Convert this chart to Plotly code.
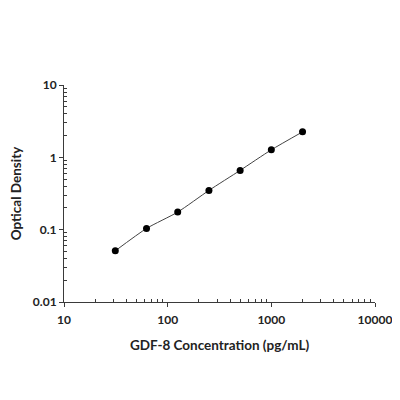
import plotly.graph_objects as go

# GDF-8 standard curve
conc = [31.25, 62.5, 125, 250, 500, 1000, 2000]
od = [0.051, 0.104, 0.175, 0.349, 0.66, 1.27, 2.25]

x_ticks = [10, 100, 1000, 10000]
x_labels = ["10", "100", "1000", "10000"]
y_ticks = [0.01, 0.1, 1, 10]
y_labels = ["0.01", "0.1", "1", "10"]

FONT = "Lato"
AXIS_COLOR = "#3a3a3a"

# minor ticks at 2..9 of each decade
x_minor = [m * 10 ** d for d in range(1, 4) for m in range(2, 10)]
y_minor = [m * 10.0 ** d for d in range(-2, 1) for m in range(2, 10)]

fig = go.Figure()

# fitted curve
fig.add_trace(go.Scatter(
    x=conc, y=od, mode="lines",
    line=dict(color="#444444", width=1, shape="spline", smoothing=0.6),
    showlegend=False, hoverinfo="skip",
))
# standards
fig.add_trace(go.Scatter(
    x=conc, y=od, mode="markers",
    marker=dict(color="black", size=7),
    showlegend=False,
))

axis_common = dict(
    type="log", showgrid=False, zeroline=False,
    showline=True, linecolor=AXIS_COLOR, linewidth=1,
    ticks="outside", ticklen=4, tickwidth=1, tickcolor=AXIS_COLOR,
    tickfont=dict(family=FONT, size=12, color="#222222", weight="bold"),
    title_font=dict(family=FONT, size=13.5, color="#222222", weight="bold"),
)

fig.update_xaxes(
    range=[1, 4], tickvals=x_ticks, ticktext=x_labels,
    minor=dict(tickvals=x_minor, ticks="inside", ticklen=3, tickwidth=0.8,
               tickcolor=AXIS_COLOR, showgrid=False),
    ticklabelstandoff=3,
    title_text="GDF-8 Concentration (pg/mL)", title_standoff=14,
    **axis_common,
)
fig.update_yaxes(
    range=[-2, 1], tickvals=y_ticks, ticktext=y_labels,
    minor=dict(tickvals=y_minor, ticks="inside", ticklen=3, tickwidth=0.8,
               tickcolor=AXIS_COLOR, showgrid=False),
    title_text="Optical Density", title_standoff=12,
    **axis_common,
)

# page body adds an 8px offset, margins compensate for it
fig.update_layout(
    width=400, height=400,
    margin=dict(l=56, r=33, t=77, b=106, autoexpand=False),
    paper_bgcolor="white", plot_bgcolor="white",
)

fig.write_html("out.html")
